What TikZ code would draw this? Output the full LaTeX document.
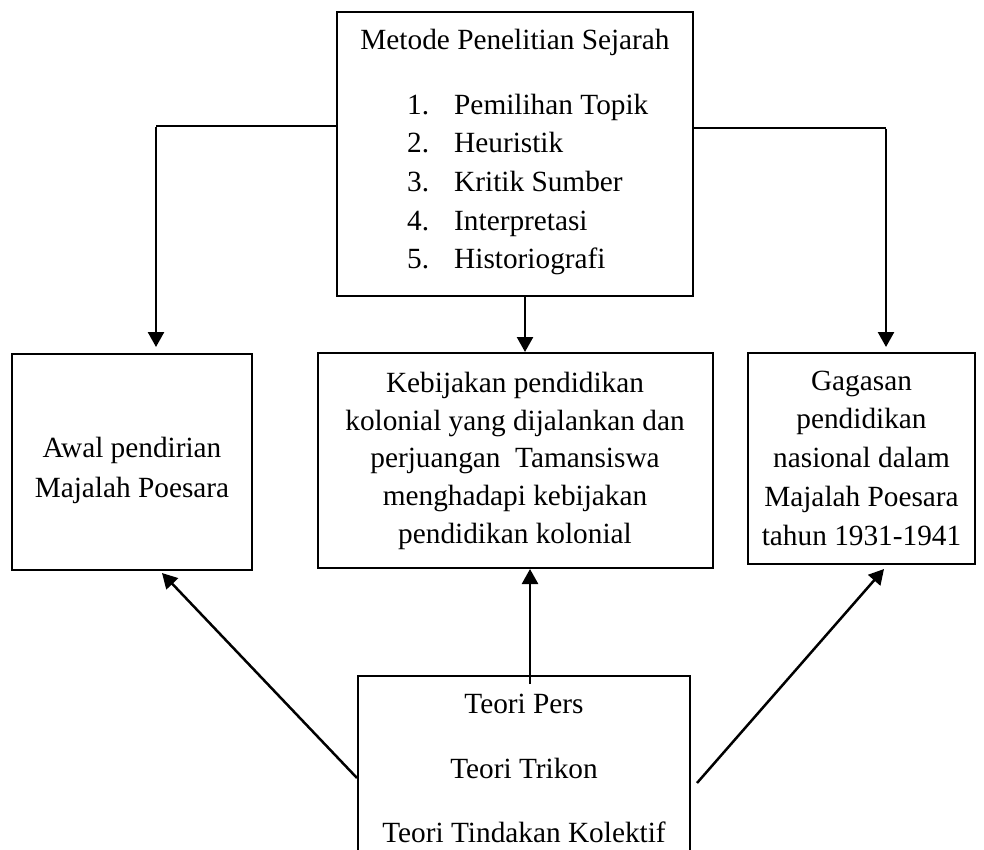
\documentclass[tikz,border=0pt]{standalone}
\usepackage{fontspec}
\setmainfont{Liberation Serif}
\usetikzlibrary{arrows.meta}
\begin{document}
\begin{tikzpicture}[x=1pt,y=-1pt,
  box/.style={draw,line width=2pt,inner sep=0pt,rectangle},
  txt/.style={anchor=base,inner sep=0pt,font=\fontsize{29.3}{38}\selectfont},
  txtl/.style={txt,anchor=base west},
  conn/.style={line width=1.5pt},
  arr/.style={line width=2.5pt,-{Triangle[width=16pt,length=15pt]}}]
\useasboundingbox (0,0) rectangle (984,850);
\clip (0,0) rectangle (984,850);

% boxes
\node[box,minimum width=356pt,minimum height=284pt] (top) at (515,154) {};
\node[box,minimum width=240pt,minimum height=216pt] (left) at (132,462) {};
\node[box,minimum width=395pt,minimum height=215pt] (mid) at (515.5,460.5) {};
\node[box,minimum width=227pt,minimum height=211pt] (right) at (861.5,458.5) {};
\node[box,minimum width=332pt,minimum height=220pt] (bot) at (524,786) {};

% top box text
\node[txt] (t0) at (515,50) {Metode Penelitian Sejarah};
\node[txtl] (n1) at (407,115) {1.};  \node[txtl] (i1) at (454,115) {Pemilihan Topik};
\node[txtl] (n2) at (407,153) {2.};  \node[txtl] (i2) at (454,153) {Heuristik};
\node[txtl] (n3) at (407,192) {3.};  \node[txtl] (i3) at (454,192) {Kritik Sumber};
\node[txtl] (n4) at (407,230) {4.};  \node[txtl] (i4) at (454,230) {Interpretasi};
\node[txtl] (n5) at (407,268) {5.};  \node[txtl] (i5) at (454,268) {Historiografi};

% left box text
\node[txt] (l1) at (132,457) {Awal pendirian};
\node[txt] (l2) at (132,497) {Majalah Poesara};

% middle box text
\node[txt] (m1) at (515,392) {Kebijakan pendidikan};
\node[txt] (m2) at (515,430) {kolonial yang dijalankan dan};
\node[txt] (m3) at (515,467) {perjuangan\ \ Tamansiswa};
\node[txt] (m4) at (515,505) {menghadapi kebijakan};
\node[txt] (m5) at (515,543) {pendidikan kolonial};

% right box text
\node[txt] (r1) at (861.5,390) {Gagasan};
\node[txt] (r2) at (861.5,428) {pendidikan};
\node[txt] (r3) at (861.5,467) {nasional dalam};
\node[txt] (r4) at (861.5,506) {Majalah Poesara};
\node[txt] (r5) at (861.5,545) {tahun 1931-1941};

% bottom box text
\node[txt] (b1) at (524,713) {Teori Pers};
\node[txt] (b2) at (524,778) {Teori Trikon};
\node[txt] (b3) at (524,842) {Teori Tindakan Kolektif};

% connectors from top box
\coordinate (lk) at (156,126);
\coordinate (rk) at (886,128);
\coordinate (mk) at (525,0);
\coordinate (uk) at (530,0);
\draw[conn] (top.west |- lk) -- (lk);
\draw[arr] ([yshift=-0.75pt]lk) -- ([yshift=6pt]left.north -| lk);
\draw[conn] (top.east |- rk) -- (rk);
\draw[arr] ([yshift=-0.75pt]rk) -- ([yshift=5pt]right.north -| rk);
\draw[arr] (top.south -| mk) -- ([yshift=0pt]mid.north -| mk);

% connectors from bottom box
\coordinate (lt) at (162,573);
\coordinate (rt) at (884,569);
\draw[arr] ([yshift=-9pt]bot.north -| uk) -- (mid.south -| uk);
\draw[arr] (bot.west |- 0,778) -- (lt);
\draw[arr] ([xshift=6pt]bot.east |- 0,783) -- (rt);
\end{tikzpicture}
\end{document}
